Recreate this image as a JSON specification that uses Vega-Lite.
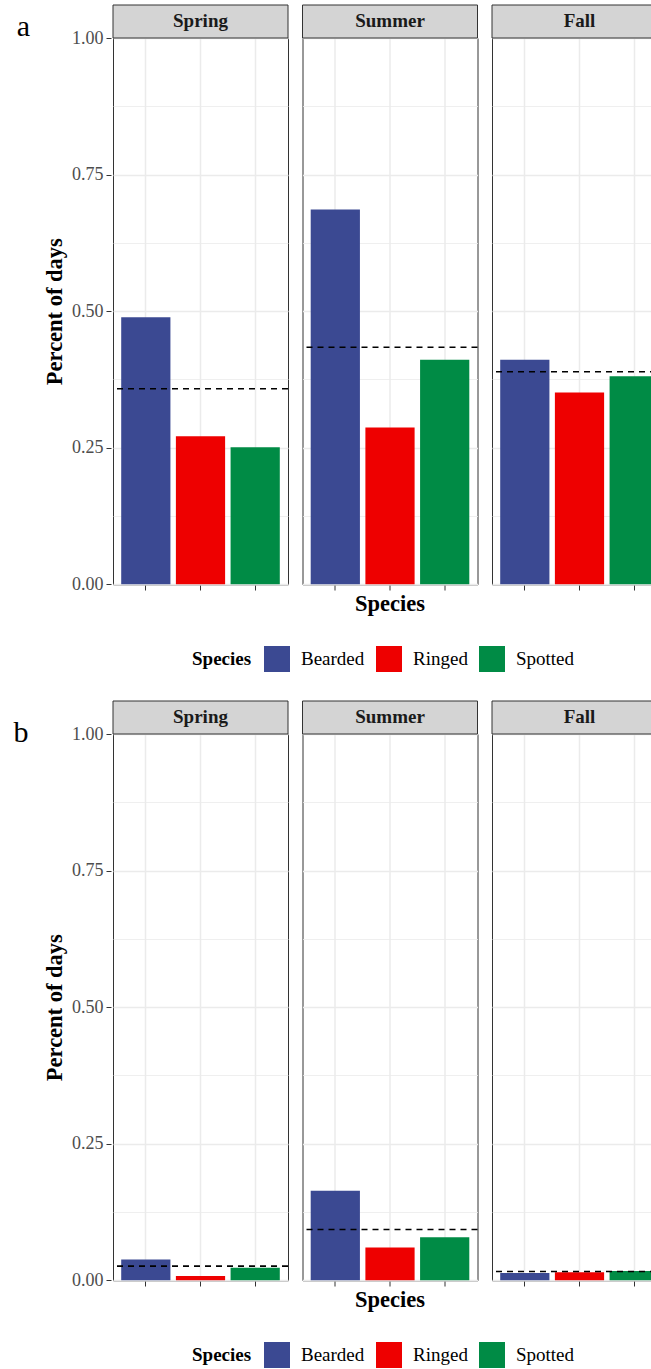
{
  "$schema": "https://vega.github.io/schema/vega-lite/v6.json",
  "background": "white",
  "padding": {"top": 4, "left": 13, "right": 0, "bottom": 0},
  "datasets": {
    "a": [
      {"Season": "Spring", "Species": "Bearded", "Percent": 0.489},
      {"Season": "Spring", "Species": "Ringed", "Percent": 0.271},
      {"Season": "Spring", "Species": "Spotted", "Percent": 0.251},
      {"Season": "Spring", "Mean": 0.358},
      {"Season": "Summer", "Species": "Bearded", "Percent": 0.686},
      {"Season": "Summer", "Species": "Ringed", "Percent": 0.287},
      {"Season": "Summer", "Species": "Spotted", "Percent": 0.411},
      {"Season": "Summer", "Mean": 0.434},
      {"Season": "Fall", "Species": "Bearded", "Percent": 0.411},
      {"Season": "Fall", "Species": "Ringed", "Percent": 0.351},
      {"Season": "Fall", "Species": "Spotted", "Percent": 0.381},
      {"Season": "Fall", "Mean": 0.389}
    ],
    "b": [
      {"Season": "Spring", "Species": "Bearded", "Percent": 0.038},
      {"Season": "Spring", "Species": "Ringed", "Percent": 0.008},
      {"Season": "Spring", "Species": "Spotted", "Percent": 0.023},
      {"Season": "Spring", "Mean": 0.026},
      {"Season": "Summer", "Species": "Bearded", "Percent": 0.164},
      {"Season": "Summer", "Species": "Ringed", "Percent": 0.06},
      {"Season": "Summer", "Species": "Spotted", "Percent": 0.079},
      {"Season": "Summer", "Mean": 0.093},
      {"Season": "Fall", "Species": "Bearded", "Percent": 0.0135},
      {"Season": "Fall", "Species": "Ringed", "Percent": 0.0147},
      {"Season": "Fall", "Species": "Spotted", "Percent": 0.017},
      {"Season": "Fall", "Mean": 0.016}
    ]
  },
  "vconcat": [
    {
      "data": {"name": "a"},
      "title": {"text": "a", "orient": "left", "anchor": "end", "angle": 0, "align": "right", "baseline": "top", "fontSize": 30, "fontWeight": "normal", "color": "black", "offset": 0, "frame": "bounds", "dy": 8},
      "facet": {"column": {"field": "Season", "type": "nominal", "sort": ["Spring", "Summer", "Fall"], "header": {"labels": false, "title": "Species", "titleOrient": "bottom", "titleFontSize": 22.5, "titleFontWeight": "bold", "titleColor": "black", "titlePadding": -8}}},
      "spacing": {"column": 10.5},
      "spec": {
        "width": 175,
        "height": 546.3,
        "layer": [
          {
            "transform": [{"filter": "datum.Species != null"}],
            "mark": {"type": "bar"},
            "encoding": {
              "x": {"field": "Species", "type": "nominal", "scale": {"domain": ["Bearded", "Ringed", "Spotted"], "paddingInner": 0.1, "paddingOuter": 0.15}, "axis": {"title": null, "labels": false, "domain": false, "ticks": true, "tickSize": 5, "tickColor": "#333333", "tickWidth": 1, "grid": true, "gridColor": "#EBEBEB", "gridWidth": 1.5, "bandPosition": 0.5}},
              "y": {"field": "Percent", "type": "quantitative", "title": "Percent of days", "scale": {"domain": [0, 1], "nice": false}, "axis": {"title": "Percent of days", "values": [0, 0.125, 0.25, 0.375, 0.5, 0.625, 0.75, 0.875, 1], "domain": false, "labelExpr": "datum.value % 0.25 ? '' : format(datum.value, '.2f')", "labelFontSize": 18, "labelColor": "#4D4D4D", "labelPadding": 3, "labelOverlap": false, "tickSize": 5, "tickColor": "#333333", "tickOpacity": {"condition": {"test": "datum.value % 0.25 != 0", "value": 0}, "value": 1}, "gridColor": "#EBEBEB", "gridWidth": {"condition": {"test": "datum.value % 0.25 != 0", "value": 0.8}, "value": 1.5}, "titleFontSize": 22.5, "titleFontWeight": "bold", "titleColor": "black", "titlePadding": 5}},
              "color": {"field": "Species", "type": "nominal", "scale": {"domain": ["Bearded", "Ringed", "Spotted"], "range": ["#3B4992", "#EE0000", "#008B45"]}, "legend": {"orient": "none", "legendX": 79, "legendY": 608, "direction": "horizontal", "title": "Species", "titleOrient": "left", "titleFontSize": 19, "titleFontWeight": "bold", "titleColor": "black", "titleAnchor": "middle", "titleBaseline": "middle", "labelFontSize": 19, "labelColor": "black", "symbolType": "square", "symbolSize": 676, "symbolStrokeWidth": 0, "symbolOpacity": 1, "labelOffset": 11, "columnPadding": 11, "titlePadding": 12, "padding": 0}}
            }
          },
          {
            "transform": [{"filter": "datum.Mean != null"}],
            "mark": {"type": "rule", "strokeDash": [6, 5], "strokeWidth": 1.6, "color": "black"},
            "encoding": {"y": {"field": "Mean", "type": "quantitative", "title": "Percent of days"}}
          },
          {
            "transform": [{"filter": "datum.Mean != null"}],
            "mark": {"type": "rect", "fill": "#D4D4D4", "stroke": "#333333", "strokeWidth": 1},
            "encoding": {"y": {"datum": 1.0604, "title": "Percent of days"}, "y2": {"datum": 1}}
          },
          {
            "transform": [{"filter": "datum.Mean != null"}],
            "mark": {"type": "text", "fontSize": 19, "fontWeight": "bold", "color": "#1A1A1A", "baseline": "alphabetic"},
            "encoding": {"y": {"datum": 1.0196, "title": "Percent of days"}, "text": {"field": "Season"}}
          }
        ]
      }
    },
    {
      "data": {"name": "b"},
      "title": {"text": "b", "orient": "left", "anchor": "end", "angle": 0, "align": "right", "baseline": "top", "fontSize": 30, "fontWeight": "normal", "color": "black", "offset": 0, "frame": "bounds", "dy": 18},
      "facet": {"column": {"field": "Season", "type": "nominal", "sort": ["Spring", "Summer", "Fall"], "header": {"labels": false, "title": "Species", "titleOrient": "bottom", "titleFontSize": 22.5, "titleFontWeight": "bold", "titleColor": "black", "titlePadding": -8}}},
      "spacing": {"column": 10.5},
      "spec": {
        "width": 175,
        "height": 546.3,
        "layer": [
          {
            "transform": [{"filter": "datum.Species != null"}],
            "mark": {"type": "bar"},
            "encoding": {
              "x": {"field": "Species", "type": "nominal", "scale": {"domain": ["Bearded", "Ringed", "Spotted"], "paddingInner": 0.1, "paddingOuter": 0.15}, "axis": {"title": null, "labels": false, "domain": false, "ticks": true, "tickSize": 5, "tickColor": "#333333", "tickWidth": 1, "grid": true, "gridColor": "#EBEBEB", "gridWidth": 1.5, "bandPosition": 0.5}},
              "y": {"field": "Percent", "type": "quantitative", "title": "Percent of days", "scale": {"domain": [0, 1], "nice": false}, "axis": {"title": "Percent of days", "values": [0, 0.125, 0.25, 0.375, 0.5, 0.625, 0.75, 0.875, 1], "domain": false, "labelExpr": "datum.value % 0.25 ? '' : format(datum.value, '.2f')", "labelFontSize": 18, "labelColor": "#4D4D4D", "labelPadding": 3, "labelOverlap": false, "tickSize": 5, "tickColor": "#333333", "tickOpacity": {"condition": {"test": "datum.value % 0.25 != 0", "value": 0}, "value": 1}, "gridColor": "#EBEBEB", "gridWidth": {"condition": {"test": "datum.value % 0.25 != 0", "value": 0.8}, "value": 1.5}, "titleFontSize": 22.5, "titleFontWeight": "bold", "titleColor": "black", "titlePadding": 5}},
              "color": {"field": "Species", "type": "nominal", "scale": {"domain": ["Bearded", "Ringed", "Spotted"], "range": ["#3B4992", "#EE0000", "#008B45"]}, "legend": {"orient": "none", "legendX": 79, "legendY": 608, "direction": "horizontal", "title": "Species", "titleOrient": "left", "titleFontSize": 19, "titleFontWeight": "bold", "titleColor": "black", "titleAnchor": "middle", "titleBaseline": "middle", "labelFontSize": 19, "labelColor": "black", "symbolType": "square", "symbolSize": 676, "symbolStrokeWidth": 0, "symbolOpacity": 1, "labelOffset": 11, "columnPadding": 11, "titlePadding": 12, "padding": 0}}
            }
          },
          {
            "transform": [{"filter": "datum.Mean != null"}],
            "mark": {"type": "rule", "strokeDash": [6, 5], "strokeWidth": 1.6, "color": "black"},
            "encoding": {"y": {"field": "Mean", "type": "quantitative", "title": "Percent of days"}}
          },
          {
            "transform": [{"filter": "datum.Mean != null"}],
            "mark": {"type": "rect", "fill": "#D4D4D4", "stroke": "#333333", "strokeWidth": 1},
            "encoding": {"y": {"datum": 1.0604, "title": "Percent of days"}, "y2": {"datum": 1}}
          },
          {
            "transform": [{"filter": "datum.Mean != null"}],
            "mark": {"type": "text", "fontSize": 19, "fontWeight": "bold", "color": "#1A1A1A", "baseline": "alphabetic"},
            "encoding": {"y": {"datum": 1.0196, "title": "Percent of days"}, "text": {"field": "Season"}}
          }
        ]
      }
    }
  ],
  "spacing": 28,
  "resolve": {"scale": {"color": "independent", "x": "independent", "y": "independent"}, "legend": {"color": "independent"}},
  "config": {
    "font": "Liberation Serif",
    "view": {"stroke": "#333333", "strokeWidth": 1}
  }
}
